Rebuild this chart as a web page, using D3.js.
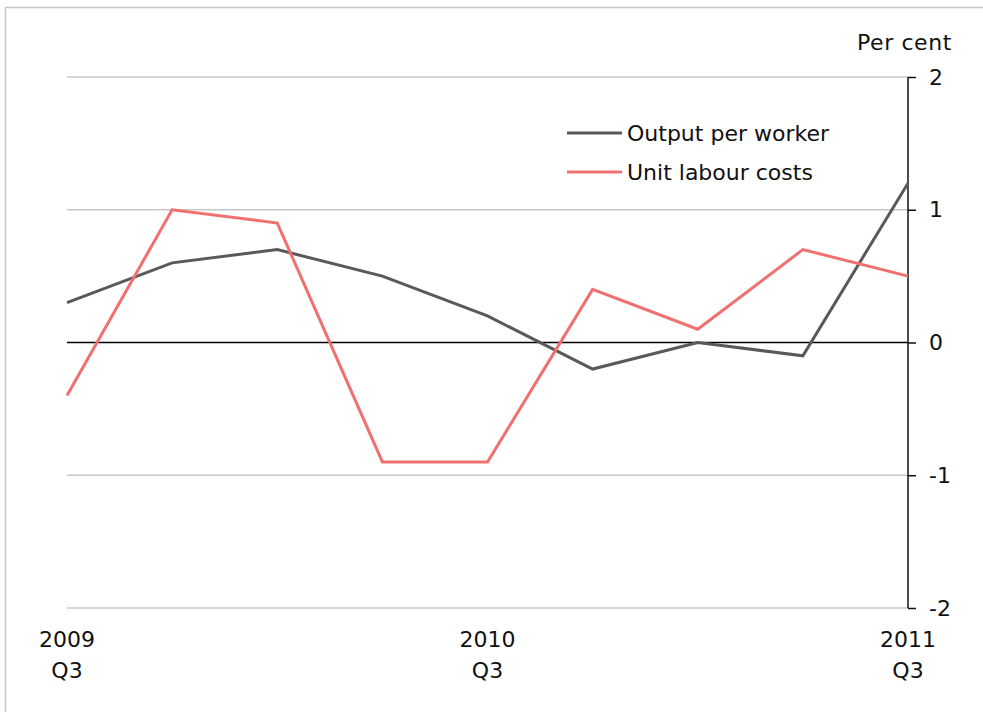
<!DOCTYPE html>
<html>
<head>
<meta charset="utf-8">
<style>
  body { margin: 0; background: #fff; }
  svg { display: block; font-family: "DejaVu Sans", sans-serif; }
</style>
</head>
<body>
<svg width="983" height="712"></svg>
<script src="https://d3js.org/d3.v7.min.js"></script>
<script>

// quarters 2009 Q3 .. 2011 Q3
var quarters = ["2009 Q3", "2009 Q4", "2010 Q1", "2010 Q2", "2010 Q3", "2010 Q4", "2011 Q1", "2011 Q2", "2011 Q3"];
var outputPerWorker = [0.3, 0.6, 0.7, 0.5, 0.2, -0.2, 0.0, -0.1, 1.2];
var unitLabourCosts = [-0.4, 1.0, 0.9, -0.9, -0.9, 0.4, 0.1, 0.7, 0.5];
var yTicks = [-2, -1, 0, 1, 2];
var xLabels = [["2009", "Q3"], ["2010", "Q3"], ["2011", "Q3"]];
var xLabelIdx = [0, 4, 8];

var svg = d3.select("svg"),
    margin = {top: 77, right: 75, bottom: 104, left: 67},
    width = +svg.attr("width") - margin.left - margin.right,
    height = +svg.attr("height") - margin.top - margin.bottom;

// frame
svg.append("rect")
    .attr("x", 5.5).attr("y", 7.5)
    .attr("width", 1000).attr("height", 1000)
    .attr("fill", "none")
    .attr("stroke", "#c8c8c8")
    .attr("stroke-width", 1.5);

var g = svg.append("g").attr("transform", "translate(" + margin.left + "," + margin.top + ")");

var x = d3.scaleLinear()
    .domain([0, quarters.length - 1])
    .range([0, width]);

var y = d3.scaleLinear()
    .domain([-2, 2])
    .range([height, 0]);

// gridlines
g.append("g")
    .selectAll("line")
    .data(yTicks.filter(function(d) { return d !== 0; }))
    .enter().append("line")
    .attr("x1", 0).attr("x2", width)
    .attr("y1", function(d) { return y(d); })
    .attr("y2", function(d) { return y(d); })
    .attr("stroke", "#c8c8c8")
    .attr("stroke-width", 1.5);

// zero line
g.append("line")
    .attr("x1", 0).attr("x2", width)
    .attr("y1", y(0)).attr("y2", y(0))
    .attr("stroke", "#000")
    .attr("stroke-width", 1.5);

// right axis
var yAxis = g.append("g")
    .attr("transform", "translate(" + width + ",0)")
    .call(d3.axisRight(y).tickValues(yTicks).tickSize(8).tickPadding(13)
        .tickFormat(function(d) { return String(d); }));
yAxis.select(".domain").attr("stroke", "#111").attr("stroke-width", 1.5).attr("d", "M0," + y(2) + "V" + y(-2));
yAxis.selectAll(".tick line").attr("stroke", "#111").attr("stroke-width", 1.5);
yAxis.selectAll(".tick text")
    .attr("fill", "#111")
    .style("font-size", "22px")
    .style("font-family", "DejaVu Sans, sans-serif");

svg.append("text")
    .attr("x", 952).attr("y", 50)
    .attr("text-anchor", "end")
    .attr("fill", "#111")
    .style("font-size", "22px")
    .style("letter-spacing", "0.6px")
    .text("Per cent");

// x labels
var xl = g.append("g").selectAll("text")
    .data(xLabelIdx)
    .enter().append("text")
    .attr("x", function(d) { return x(d); })
    .attr("y", height + 39)
    .attr("text-anchor", "middle")
    .attr("fill", "#111")
    .style("font-size", "22px");
xl.append("tspan")
    .attr("x", function(d) { return x(d); })
    .text(function(d, i) { return xLabels[i][0]; });
xl.append("tspan")
    .attr("x", function(d) { return x(d); })
    .attr("dy", 31)
    .text(function(d, i) { return xLabels[i][1]; });

var line = d3.line()
    .x(function(d, i) { return x(i); })
    .y(function(d) { return y(d); });

g.append("path")
    .datum(outputPerWorker)
    .attr("fill", "none")
    .attr("stroke", "#595959")
    .attr("stroke-width", 3)
    .attr("d", line);

g.append("path")
    .datum(unitLabourCosts)
    .attr("fill", "none")
    .attr("stroke", "#f07070")
    .attr("stroke-width", 3)
    .attr("d", line);

// legend
var legend = svg.append("g");
var items = [["Output per worker", "#595959", 133], ["Unit labour costs", "#f07070", 172]];
items.forEach(function(it) {
    legend.append("line")
        .attr("x1", 567).attr("x2", 622)
        .attr("y1", it[2]).attr("y2", it[2])
        .attr("stroke", it[1])
        .attr("stroke-width", 3);
    legend.append("text")
        .attr("x", 627).attr("y", it[2] + 8)
        .attr("fill", "#111")
        .style("font-size", "22px")
        .text(it[0]);
});

</script>
</body>
</html>
